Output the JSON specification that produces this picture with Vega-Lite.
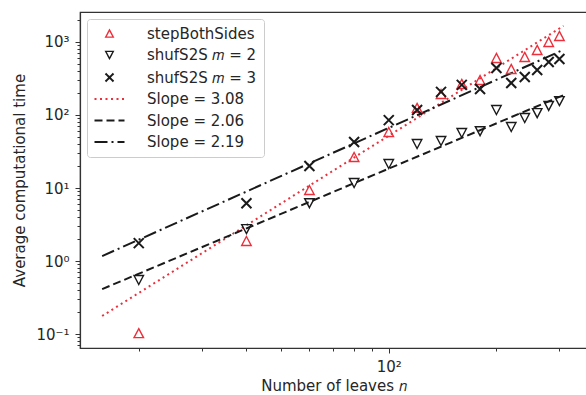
{
  "$schema": "https://vega.github.io/schema/vega-lite/v6.json",
  "width": 507,
  "height": 336,
  "autosize": {"type": "none"},
  "padding": {"left": 80, "top": 12, "right": 0, "bottom": 47},
  "background": "white",
  "config": {
    "view": {"stroke": "#333333", "strokeWidth": 1.2},
    "font": "DejaVu Sans",
    "axis": {
      "grid": false,
      "domainColor": "#333333",
      "domainWidth": 1.2,
      "tickColor": "#333333",
      "tickWidth": 1,
      "labelFont": "DejaVu Sans",
      "labelFontSize": 15,
      "labelColor": "#262626",
      "titleFont": "DejaVu Sans",
      "titleFontSize": 15,
      "titleFontWeight": "normal",
      "titleColor": "#262626",
      "labelOverlap": false,
      "labelBound": false,
      "labelFlush": false
    },
    "legend": {
      "orient": "none",
      "legendX": 7,
      "legendY": 7,
      "fillColor": "white",
      "strokeColor": "#cccccc",
      "cornerRadius": 3,
      "padding": 7,
      "labelFont": "DejaVu Sans",
      "labelFontSize": 15,
      "labelColor": "#262626",
      "symbolSize": 64,
      "symbolOffset": 8,
      "labelOffset": 30,
      "rowPadding": 5.5,
      "symbolStrokeWidth": 2
    }
  },
  "datasets": {
    "pts": [
      {"series": "stepBothSides", "n": 20, "t": 0.103},
      {"series": "stepBothSides", "n": 40, "t": 1.88},
      {"series": "stepBothSides", "n": 60, "t": 9.4},
      {"series": "stepBothSides", "n": 80, "t": 26.6},
      {"series": "stepBothSides", "n": 100, "t": 58.5},
      {"series": "stepBothSides", "n": 120, "t": 125},
      {"series": "stepBothSides", "n": 140, "t": 194},
      {"series": "stepBothSides", "n": 160, "t": 266},
      {"series": "stepBothSides", "n": 180, "t": 301},
      {"series": "stepBothSides", "n": 200, "t": 604},
      {"series": "stepBothSides", "n": 220, "t": 427},
      {"series": "stepBothSides", "n": 240, "t": 623},
      {"series": "stepBothSides", "n": 260, "t": 777},
      {"series": "stepBothSides", "n": 280, "t": 1000},
      {"series": "stepBothSides", "n": 300, "t": 1208},
      {"series": "shufS2S 𝑚 = 2", "n": 20, "t": 0.55},
      {"series": "shufS2S 𝑚 = 2", "n": 40, "t": 2.74},
      {"series": "shufS2S 𝑚 = 2", "n": 60, "t": 6.2},
      {"series": "shufS2S 𝑚 = 2", "n": 80, "t": 11.7},
      {"series": "shufS2S 𝑚 = 2", "n": 100, "t": 21.3},
      {"series": "shufS2S 𝑚 = 2", "n": 120, "t": 40},
      {"series": "shufS2S 𝑚 = 2", "n": 140, "t": 44},
      {"series": "shufS2S 𝑚 = 2", "n": 160, "t": 56.7},
      {"series": "shufS2S 𝑚 = 2", "n": 180, "t": 60},
      {"series": "shufS2S 𝑚 = 2", "n": 200, "t": 117},
      {"series": "shufS2S 𝑚 = 2", "n": 220, "t": 68.5},
      {"series": "shufS2S 𝑚 = 2", "n": 240, "t": 91},
      {"series": "shufS2S 𝑚 = 2", "n": 260, "t": 106},
      {"series": "shufS2S 𝑚 = 2", "n": 280, "t": 133},
      {"series": "shufS2S 𝑚 = 2", "n": 300, "t": 155},
      {"series": "shufS2S 𝑚 = 3", "n": 20, "t": 1.76},
      {"series": "shufS2S 𝑚 = 3", "n": 40, "t": 6.2},
      {"series": "shufS2S 𝑚 = 3", "n": 60, "t": 20},
      {"series": "shufS2S 𝑚 = 3", "n": 80, "t": 42.7},
      {"series": "shufS2S 𝑚 = 3", "n": 100, "t": 85},
      {"series": "shufS2S 𝑚 = 3", "n": 120, "t": 117},
      {"series": "shufS2S 𝑚 = 3", "n": 140, "t": 207},
      {"series": "shufS2S 𝑚 = 3", "n": 160, "t": 258},
      {"series": "shufS2S 𝑚 = 3", "n": 180, "t": 227},
      {"series": "shufS2S 𝑚 = 3", "n": 200, "t": 440},
      {"series": "shufS2S 𝑚 = 3", "n": 220, "t": 274},
      {"series": "shufS2S 𝑚 = 3", "n": 240, "t": 331},
      {"series": "shufS2S 𝑚 = 3", "n": 260, "t": 413},
      {"series": "shufS2S 𝑚 = 3", "n": 280, "t": 532},
      {"series": "shufS2S 𝑚 = 3", "n": 300, "t": 585}
    ],
    "fits": [
      {"series": "Slope = 3.08", "n": 15.8, "t": 0.177},
      {"series": "Slope = 3.08", "n": 308, "t": 1660},
      {"series": "Slope = 2.06", "n": 15.8, "t": 0.413},
      {"series": "Slope = 2.06", "n": 308, "t": 187},
      {"series": "Slope = 2.19", "n": 15.8, "t": 1.17},
      {"series": "Slope = 2.19", "n": 308, "t": 782}
    ]
  },
  "encoding": {
    "x": {
      "field": "n",
      "type": "quantitative",
      "scale": {"type": "log", "domain": [13.7, 358.3], "nice": false},
      "axis": {
        "title": "Number of leaves 𝑛",
        "values": [20, 30, 40, 50, 60, 70, 80, 90, 100, 200, 300],
        "labelExpr": "datum.value == 100 ? '10²' : ''",
        "tickSize": {"condition": {"test": "datum.value == 100", "value": 5}, "value": 3},
        "labelPadding": 6,
        "titlePadding": 4
      }
    },
    "y": {
      "field": "t",
      "type": "quantitative",
      "scale": {"type": "log", "domain": [0.0645, 2570], "nice": false},
      "axis": {
        "title": "Average computational time",
        "values": [0.07, 0.08, 0.09, 0.1, 0.2, 0.3, 0.4, 0.5, 0.6, 0.7, 0.8, 0.9, 1, 2, 3, 4, 5, 6, 7, 8, 9, 10, 20, 30, 40, 50, 60, 70, 80, 90, 100, 200, 300, 400, 500, 600, 700, 800, 900, 1000, 2000],
        "labelExpr": "datum.value == 0.1 ? '10⁻¹' : datum.value == 1 ? '10⁰' : datum.value == 10 ? '10¹' : datum.value == 100 ? '10²' : datum.value == 1000 ? '10³' : ''",
        "tickSize": {"condition": {"test": "indexof([0.1, 1, 10, 100, 1000], datum.value) >= 0", "value": 5}, "value": 3},
        "labelPadding": 6,
        "titlePadding": 8
      }
    },
    "color": {
      "field": "series",
      "type": "nominal",
      "scale": {
        "domain": ["stepBothSides", "shufS2S 𝑚 = 2", "shufS2S 𝑚 = 3", "Slope = 3.08", "Slope = 2.06", "Slope = 2.19"],
        "range": ["#ec2f3b", "#1a1a1a", "#1a1a1a", "#ec2f3b", "#1a1a1a", "#1a1a1a"]
      },
      "legend": {
        "title": null,
        "encode": {
          "symbols": {
            "update": {
              "strokeWidth": {"signal": "datum.value == 'stepBothSides' || datum.value == 'shufS2S 𝑚 = 2' ? 1.4 : 2"}
            }
          }
        }
      }
    }
  },
  "layer": [
    {
      "data": {"name": "fits"},
      "mark": {"type": "line", "strokeWidth": 2, "clip": true},
      "encoding": {
        "detail": {"field": "series"},
        "strokeDash": {
          "field": "series",
          "type": "nominal",
          "scale": {
            "domain": ["stepBothSides", "shufS2S 𝑚 = 2", "shufS2S 𝑚 = 3", "Slope = 3.08", "Slope = 2.06", "Slope = 2.19"],
            "range": [[1, 0], [1, 0], [1, 0], [2, 3.5], [8, 4], [13, 4, 2, 4]]
          },
          "legend": {"title": null}
        }
      }
    },
    {
      "data": {"name": "pts"},
      "transform": [{"filter": "datum.series != 'shufS2S 𝑚 = 3'"}],
      "mark": {"type": "point", "filled": false, "size": 100, "strokeWidth": 1.4, "opacity": 1},
      "encoding": {
        "shape": {
          "field": "series",
          "type": "nominal",
          "scale": {
            "domain": ["stepBothSides", "shufS2S 𝑚 = 2", "shufS2S 𝑚 = 3", "Slope = 3.08", "Slope = 2.06", "Slope = 2.19"],
            "range": ["M0,-0.9L0.95,0.9L-0.95,0.9Z", "M0,0.9L0.95,-0.9L-0.95,-0.9Z", "M-1,-1L1,1M-1,1L1,-1", "M-3.75,0H3.75", "M-3.75,0H3.75", "M-3.75,0H3.75"]
          },
          "legend": {"title": null}
        }
      }
    },
    {
      "data": {"name": "pts"},
      "transform": [{"filter": "datum.series == 'shufS2S 𝑚 = 3'"}],
      "mark": {"type": "point", "filled": false, "size": 100, "strokeWidth": 2, "opacity": 1},
      "encoding": {
        "shape": {"field": "series", "type": "nominal"}
      }
    }
  ]
}
